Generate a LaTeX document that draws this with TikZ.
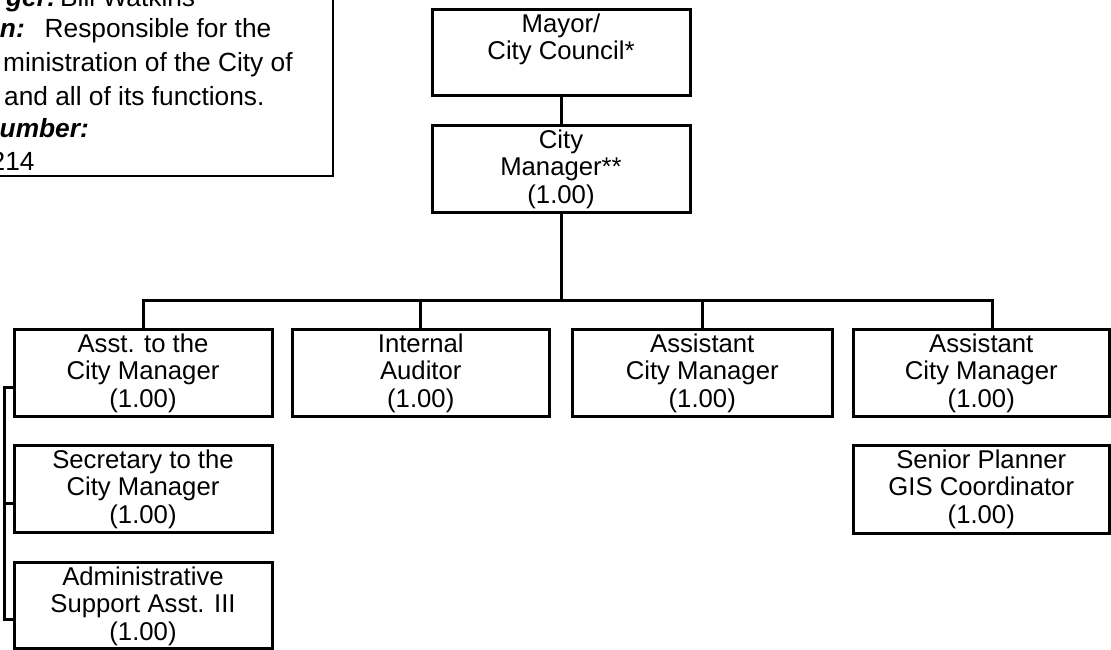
\documentclass[tikz,border=0pt]{standalone}
\usepackage{fontspec}
\setmainfont{Liberation Sans}
\usetikzlibrary{calc}
\newcommand\chartfont{\fontsize{25.7}{27.7}\selectfont}
\newcommand\panelfont{\fontsize{26.3}{28}\selectfont}
\newcommand\fieldname[1]{\textbf{\textit{#1}}}
\begin{document}
\begin{tikzpicture}[x=1pt,y=-1pt,
  post/.style={draw, line width=3pt, inner sep=0pt, outer sep=0pt,
    minimum width=258pt, minimum height=87pt},
  title/.style={anchor=north, inner sep=0pt, align=center, font=\chartfont},
  info/.style={anchor=base west, inner sep=0pt, font=\panelfont},
  wire/.style={line width=3pt}]
\useasboundingbox (0,0) rectangle (1111,649);
\clip (0,0) rectangle (1111,649);

% department information panel
\draw[line width=2.5pt] (-40,-40) rectangle (333,176);
\node[info, anchor=base east] (mgrk) at (56,6) {\fieldname{ger:}};
\node[info] (mgrv) at (60,6) {Bill Watkins};
\node[info, anchor=base east] (desk) at (25,37) {\fieldname{on:}};
\node[info] (desv) at (44.5,37) {Responsible for the};
\node[info] (des2) at (3,71) {ministration of the City of};
\node[info] (des3) at (4,105) {and all of its functions.};
\node[info] (phk) at (-0.5,137.5) {\fieldname{umber:}};
\node[info] (phv) at (-9.5,170.5) {214};

% positions
\node[post, minimum height=86pt] (mayor) at (561,52) {};
\node[post] (cm) at (561,168.5) {};
\node[post] (asst) at (143,372.5) {};
\node[post, minimum width=256.5pt] (aud) at (420.75,372.5) {};
\node[post, minimum width=260.5pt] (acm1) at (702.25,372.5) {};
\node[post, minimum width=256.5pt] (acm2) at (981.25,372.5) {};
\node[post] (sec) at (143,488.5) {};
\node[post, minimum height=86pt] (adm) at (143,605) {};
\node[post, minimum width=256.5pt, minimum height=88pt] (gis) at (981.25,489) {};

% titles
\node[title] (mayor-t) at ([yshift=-3.6pt]mayor.north) {\strut Mayor/\\City Council*};
\node[title] (cm-t) at ([yshift=-3.6pt]cm.north) {\strut City\\Manager**\\(1.00)};
\node[title] (asst-t) at ([yshift=-3.6pt]asst.north) {\strut Asst. to the\\City Manager\\(1.00)};
\node[title] (aud-t) at ([yshift=-3.6pt]aud.north) {\strut Internal\\Auditor\\(1.00)};
\node[title] (acm1-t) at ([yshift=-3.6pt]acm1.north) {\strut Assistant\\City Manager\\(1.00)};
\node[title] (acm2-t) at ([yshift=-3.6pt]acm2.north) {\strut Assistant\\City Manager\\(1.00)};
\node[title] (sec-t) at ([yshift=-3.6pt]sec.north) {\strut Secretary to the\\City Manager\\(1.00)};
\node[title] (adm-t) at ([yshift=-3.6pt]adm.north) {\strut Administrative\\Support Asst. III\\(1.00)};
\node[title] (gis-t) at ([yshift=-3.6pt]gis.north) {\strut Senior Planner\\GIS Coordinator\\(1.00)};

% reporting lines
\coordinate (bus) at (561,300);
\coordinate (drop) at (992,329);
\draw[wire] (mayor.south) -- (cm.north);
\draw[wire] (cm.south) -- (bus);
\draw[wire] (asst.north) -- (asst.north |- bus) -- (drop |- bus) -- (drop);
\draw[wire] (aud.north) -- (aud.north |- bus);
\draw[wire] (acm1.north) -- (acm1.north |- bus);
\coordinate (rail) at (4,0);
\draw[wire] ([yshift=-14.5pt]asst.west) -- ([yshift=-14.5pt]asst.west -| rail)
  -- ([yshift=-14.5pt]adm.west -| rail) -- ([yshift=-14.5pt]adm.west);
\draw[wire] ([yshift=-14.5pt]sec.west) -- ([yshift=-14.5pt]sec.west -| rail);
\end{tikzpicture}
\end{document}
